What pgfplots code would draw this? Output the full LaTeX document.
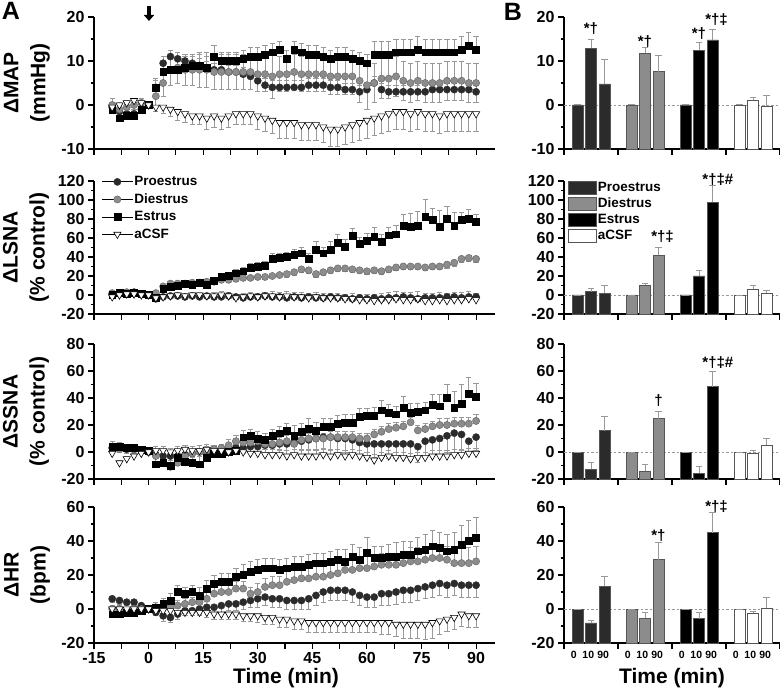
\documentclass[border=0pt]{standalone}
\usepackage{fontspec}
\setmainfont{Liberation Sans}
\usepackage{pgfplots}
\pgfplotsset{compat=1.18}
\usepackage{pgfplotstable}
\usetikzlibrary{arrows.meta}

\newcommand\fTick{\bfseries\fontsize{16}{16}\selectfont}
\newcommand\fLab{\bfseries\fontsize{21}{27}\selectfont}
\newcommand\fLeg{\bfseries\fontsize{13.5}{15}\selectfont}
\newcommand\fAnn{\bfseries\fontsize{15}{15}\selectfont}
\newcommand\fSm{\bfseries\fontsize{10.5}{10.5}\selectfont}
\newcommand\fPl{\bfseries\fontsize{25}{25}\selectfont}

\definecolor{pcol}{HTML}{2B2B2B}
\definecolor{dcol}{HTML}{8C8C8C}
\definecolor{dedge}{HTML}{6A6A6A}
\definecolor{ebcol}{HTML}{999999}
\definecolor{bedge}{HTML}{555555}

\pgfplotsset{
 base/.style={scale only axis, axis x line=bottom, axis y line=left,
   axis line style={-, line width=1.1pt}, tick style={line width=1.1pt, black},
   major tick length=6pt, minor tick length=3.5pt, tick align=outside,
   tick label style={font=\fTick}, /pgf/number format/assume math mode=true,
   minor y tick num=1, clip=false},
 leftax/.style={base, width=401pt, xmin=-15, xmax=95.2, xtick={-15,0,...,90},
   extra x ticks={-7.5,7.5,...,82.5}, extra x tick labels={}},
 rightax/.style={base, width=216pt, xmin=0, xmax=16, xtick={0,4,...,16}, xticklabels={}},
 Pst/.style={only marks, mark=*, mark size=3.6pt, mark options={fill=pcol, draw=pcol, line width=0.4pt}},
 Dst/.style={only marks, mark=*, mark size=3.6pt, mark options={fill=dcol, draw=dedge, line width=0.5pt}},
 Est/.style={only marks, mark=square*, mark size=3.4pt, mark options={fill=black, draw=black}},
 Ast/.style={only marks, mark=triangle*, mark size=4.2pt, mark options={rotate=180, fill=white, draw=black, line width=0.6pt}},
 ebplus/.style={error bars/.cd, y dir=plus, y explicit, error bar style={line width=0.8pt, ebcol}, error mark options={rotate=90, mark size=2.6pt, line width=0.8pt, ebcol}},
 ebminus/.style={error bars/.cd, y dir=minus, y explicit, error bar style={line width=0.8pt, ebcol}, error mark options={rotate=90, mark size=2.6pt, line width=0.8pt, ebcol}},
 ebboth/.style={error bars/.cd, y dir=both, y explicit, error bar style={line width=0.8pt, ebcol}, error mark options={rotate=90, mark size=2.6pt, line width=0.8pt, ebcol}},
 barst/.style={ybar, bar width=11pt, bar shift=0pt, line width=0.6pt,
   legend image code/.code={\draw[##1] (0pt,-6.5pt) rectangle (28pt,6.5pt);}},
 bareb/.style={error bars/.cd, y dir=plus, y explicit, error bar style={line width=1pt, ebcol}, error mark options={rotate=90, mark size=3.2pt, line width=1pt, ebcol}},
 zline/.style={forget plot, ebcol, line width=0.6pt, dash pattern=on 2.5pt off 2pt},
}

\pgfplotstableread{
t P Pe D De E Ee A Ae
-10 -0.5 1 0 1.5 -1 1.5 -0.5 1.5
-8 -1.5 1 -1 1.5 -3 1.5 0 1.5
-6 -2 1 -0.5 1.5 -2.5 1.5 0.5 1
-4 -2 1 0 1.5 -2.5 1.5 1 1
-2 -1 1 0.5 1 -1 1 0.5 1
0 0 0.5 0 0.5 0 0.5 0 0.5
2 4 1.5 2 2 4 2 -0.5 1
4 9.5 1.5 5 3 7.5 2 -0.5 1.5
6 11 1.5 8 3.5 8 2.5 -1 1.5
8 10.5 1.5 8.5 3.5 8 2.5 -1.5 2
10 10 1.5 8 3.5 8.5 2.5 -2 2
12 9.5 1.5 8 3.5 9 2.5 -2.5 2
14 9 1.5 8 4 9 2.5 -2.5 2
16 8.5 1.5 8 4 8.5 2.5 -3 2.5
18 8 1.5 7.5 4 11 2.5 -2.5 2.5
20 8 1.5 7.5 4 10 2 -3 2.5
22 7.5 1.5 7.5 4 10 2 -2.5 2.5
24 7.5 1.5 7.5 4 10 2 -2 2.5
26 7 1.5 7.5 4 10.5 2 -2 2.5
28 6.5 1.5 7.5 4 11 2 -2 2.5
30 5.5 1.5 7 4 11 2 -2.5 3
32 4.5 1.5 7 4 11.5 2 -3 3
34 4 1.5 6.5 5 12 2 -3.5 3
36 4 1.5 7 4 12.5 2 -4 3.5
38 4 1.5 7 4 10.5 2 -4 3.5
40 4 1.5 7.5 4 12.5 2 -4 3.5
42 4 1.5 7 4 12 2 -4.5 3.5
44 4.5 1.5 7 4 11.5 2 -4.5 3.5
46 4.5 1.5 7 4 11.5 2 -4.5 3.5
48 4.5 1.5 7 4 11 2 -5 3.5
50 4 1.5 6.5 4 10.5 2 -5.5 4
52 4 1.5 6.5 4 11 2 -5.5 4
54 3.5 1.5 6.5 4 11 2 -5 4
56 3.5 1.5 6.5 4 10.5 2 -4.5 4
58 3 1.5 5.5 5 10 2 -4 4
60 3.5 1.5 4.5 5.5 9.5 2 -3.5 4
62 5 1.5 5 4.5 11.5 3 -3 4
64 3.5 1.5 6 4.5 11.5 3 -2.5 4
66 3 1.5 6 4.5 11.5 3 -2 4
68 3 1.5 6.5 4.5 12 3 -1.5 4
70 3 1.5 5.5 4.5 12 3 -1.5 4
72 3 1.5 5 4.5 12 3 -2 4
74 3 1.5 5.5 4.5 12.5 3 -1.5 4
76 3 1.5 5 4.5 12 3 -2 4
78 3.5 1.5 5 4.5 12 3 -2 4
80 3.5 1.5 5 4.5 12 3 -2.5 4
82 3.5 1.5 5.5 4.5 12 3 -2 4
84 3.5 1.5 5.5 4.5 12 3 -2 4
86 3.5 1.5 5.5 4.5 12.5 3 -2 4
88 3.5 1.5 5 4.5 13.5 3 -2 4
90 3 1.5 5 4.5 12.5 3 -2 4
}\mapd

\pgfplotstableread{
t P Pe D De E Ee A Ae
-10 1 2 2 2 0 3 -2 3
-8 2 2 1 2 2 2 0 3
-6 2 2 3 2 1 2 1 2
-4 3 2 2 2 2 2 1 2
-2 1 2 1 2 1 2 0 2
0 0 1 0 1 0 1 0 1
2 -4 2 2 2 -3 2 -3 2
4 -2 2 9 3 7 3 -2 3
6 -1 2 12 3 9 3 -1 3
8 -1 2 12 3 10 3 0 3
10 -2 2 12 3 12 3 -1 3
12 -1 2 13 3 11 3 0 3
14 -2 2 13 3 13 3 0 3
16 -1 2 14 3 11 3 -1 3
18 -2 2 14 3 15 3 -1 4
20 -2 2 16 3 19 3 0 4
22 -1 2 16 3 20 3 -1 4
24 -2 2 17 3 23 4 -3 4
26 -3 2 18 3 25 4 -2 4
28 -2 2 18 3 29 4 -1 4
30 -2 2 19 3 30 4 -2 4
32 -1 2 19 3 31 4 -1 4
34 -2 2 20 3 38 6 -1 5
36 -2 2 21 3 39 5 -2 5
38 -3 2 22 3 40 5 -1 5
40 -2 2 24 3 42 6 -2 5
42 -3 2 27 3 44 6 -2 5
44 -2 2 26 3 38 6 -3 5
46 -3 2 22 3 48 8 -2 5
48 -3 2 24 3 44 6 -3 5
50 -2 2 26 3 48 8 -3 5
52 -3 2 28 3 55 9 -3 5
54 -3 2 28 3 51 8 -4 5
56 -4 2 27 3 62 8 -4 6
58 -3 2 26 3 54 7 -5 6
60 -4 2 25 3 57 8 -5 6
62 -3 2 26 3 61 10 -6 7
64 -4 2 25 3 56 8 -5 7
66 -3 2 27 3 63 8 -5 8
68 -3 2 29 3 64 9 -4 8
70 -2 2 30 3 73 12 -5 8
72 -3 2 30 3 72 14 -5 8
74 -4 2 30 3 73 15 -4 8
76 -3 2 29 3 82 19 -6 8
78 -3 2 30 3 79 12 -6 8
80 -3 2 30 3 72 17 -5 8
82 -2 2 32 4 80 13 -6 8
84 -2 2 34 4 73 14 -5 8
86 -3 2 38 4 79 8 -5 8
88 -2 2 39 4 80 10 -4 8
90 -2 2 38 4 77 8 -5 7
}\lsnad

\pgfplotstableread{
t P Pe D De E Ee A Ae
-10 3 3 3 2 4 4 -1 2
-8 3 3 2 2 4 3 -8 2
-6 2 3 3 2 3 3 -5 2
-4 2 3 2 2 3 3 -3 2
-2 1 2 1 2 2 2 -1 2
0 0 1 0 1 1 1 0 1
2 -2 3 -3 3 -9 4 1 3
4 -3 3 -8 3 -8 4 1 3
6 -3 3 -11 3 -10 5 0 3
8 -3 3 -8 3 -4 5 1 3
10 -2 3 -3 3 -7 5 2 3
12 -1 3 -1 3 -8 5 1 3
14 0 3 0 3 -9 6 1 4
16 0 3 1 3 -4 5 2 4
18 1 3 2 3 -1 5 1 4
20 2 4 3 3 -1 5 1 4
22 2 4 5 4 0 5 0 4
24 3 4 8 4 1 5 1 4
26 3 4 7 4 11 5 0 4
28 4 4 7 4 12 5 -1 4
30 4 4 8 4 10 5 -1 4
32 5 5 6 4 9 5 -2 4
34 5 5 6 4 12 5 -2 4
36 6 5 7 4 14 5 -2 4
38 6 5 8 4 16 5 -3 4
40 7 5 6 4 12 8 -2 4
42 8 6 9 4 15 6 -3 4
44 9 7 10 4 17 8 -3 4
46 10 8 10 4 16 6 -3 4
48 11 8 10 4 19 6 -2 4
50 11 9 11 4 19 6 -3 4
52 10 10 11 4 21 6 -2 4
54 10 10 11 4 22 6 -3 4
56 9 10 11 4 22 6 -2 4
58 7 10 10 4 26 6 -3 4
60 6 10 10 4 27 5 -4 4
62 6 10 13 4 27 6 -6 4
64 6 11 15 4 31 7 -4 4
66 6 11 17 4 29 6 -3 4
68 6 11 18 4 28 6 -4 4
70 6 11 19 4 33 8 -4 4
72 6 12 22 4 29 7 -5 4
74 4 12 16 4 30 6 -4 4
76 8 12 17 4 31 6 -4 4
78 9 12 19 4 35 8 -3 4
80 10 12 20 5 34 9 -3 4
82 12 12 20 5 40 10 -3 4
84 14 12 21 5 33 12 -2 4
86 13 12 21 5 36 14 -2 4
88 8 10 21 5 43 12 -1 4
90 11 10 23 5 41 10 -1 4
}\ssnad

\pgfplotstableread{
t P Pe D De E Ee A Ae
-10 6 2 0 2 -3 2 0 2
-8 5 2 0 2 -3 2 0 2
-6 4 2 -1 2 -2 2 0 2
-4 4 2 0 2 -2 2 0 2
-2 2 2 0 2 -1 2 0 2
0 0 1 0 1 0 1 0 1
2 -2 2 1 3 1 3 -1 2
4 -4 3 1 3 3 3 -1 2
6 -5 3 1 3 5 4 -1 2
8 -3 3 2 3 10 4 -2 2
10 -1 3 3 3 9 4 -2 2
12 -1 3 4 3 10 4 -2 2
14 0 3 4 4 8 5 -2 2
16 1 3 6 4 12 5 -2 3
18 1 3 9 4 15 5 -3 3
20 2 4 10 4 16 5 -3 3
22 3 4 10 4 16 5 -3 3
24 3 4 12 4 19 5 -3 3
26 4 4 12 4 20 6 -4 3
28 5 4 9 4 22 6 -4 3
30 6 5 10 5 23 6 -4 4
32 7 5 13 5 24 6 -5 4
34 6 5 14 5 24 6 -5 4
36 6 5 14 5 23 6 -6 5
38 5 5 16 6 24 6 -6 5
40 5 5 17 6 25 6 -7 5
42 5 5 18 6 25 6 -7 5
44 6 6 18 6 26 6 -8 6
46 8 6 19 7 27 6 -8 6
48 10 6 19 7 27 6 -8 6
50 11 6 20 7 28 6 -8 6
52 11 6 21 7 29 6 -8 6
54 11 6 23 7 28 7 -8 6
56 10 6 23 7 31 7 -8 6
58 8 6 24 7 29 7 -8 6
60 7 6 24 7 33 9 -8 6
62 7 6 25 7 30 7 -8 6
64 9 7 26 7 30 7 -8 7
66 9 7 26 7 31 7 -8 7
68 10 7 26 7 31 8 -9 7
70 11 7 27 7 32 8 -9 8
72 11 7 28 8 32 8 -9 8
74 12 7 28 8 34 8 -9 8
76 13 7 29 8 35 9 -9 9
78 14 7 30 8 37 9 -8 9
80 15 7 30 8 36 9 -7 8
82 14 7 29 8 34 10 -6 7
84 15 7 27 9 35 10 -5 7
86 14 7 27 9 38 11 -3 7
88 14 7 27 9 40 12 -4 7
90 14 7 28 9 42 12 -4 7
}\hrd

\begin{document}
\begin{tikzpicture}
\useasboundingbox (0pt,0pt) rectangle (780pt,-695pt);

% ---------------- left panels ----------------
\begin{axis}[leftax, xticklabels={}, at={(94pt,-149pt)}, anchor=south west, height=132pt,
  ymin=-10, ymax=20, ytick={-10,0,10,20}]
\addplot[Pst, ebplus] table[x=t,y=P,y error=Pe]{\mapd};
\addplot[Dst, ebboth] table[x=t,y=D,y error=De]{\mapd};
\addplot[Est, ebplus] table[x=t,y=E,y error=Ee]{\mapd};
\addplot[Ast, ebminus] table[x=t,y=A,y error=Ae]{\mapd};
\end{axis}

\begin{axis}[leftax, xticklabels={}, at={(94pt,-314pt)}, anchor=south west, height=133pt,
  ymin=-20, ymax=120, ytick={-20,0,...,120},
  legend style={at={(axis cs:-13,126)}, anchor=north west, draw=none, fill=none,
    font=\fLeg, row sep=4.5pt, inner sep=0pt, nodes={inner sep=1pt}},
  legend cell align=left,
  legend image code/.code={\draw[black, line width=0.8pt] (0pt,0pt) -- (31pt,0pt);
     \draw[#1] plot coordinates {(15.5pt,0pt)};}]
\addplot[Pst, ebminus] table[x=t,y=P,y error=Pe]{\lsnad};
\addplot[Dst, ebminus] table[x=t,y=D,y error=De]{\lsnad};
\addplot[Est, ebplus] table[x=t,y=E,y error=Ee]{\lsnad};
\addplot[Ast, ebplus] table[x=t,y=A,y error=Ae]{\lsnad};
\legend{Proestrus,Diestrus,Estrus,aCSF}
\end{axis}

\begin{axis}[leftax, xticklabels={}, at={(94pt,-479pt)}, anchor=south west, height=135pt,
  ymin=-20, ymax=80, ytick={-20,0,...,80}]
\addplot[Pst, ebminus] table[x=t,y=P,y error=Pe]{\ssnad};
\addplot[Dst, ebplus] table[x=t,y=D,y error=De]{\ssnad};
\addplot[Est, ebplus] table[x=t,y=E,y error=Ee]{\ssnad};
\addplot[Ast, ebplus] table[x=t,y=A,y error=Ae]{\ssnad};
\end{axis}

\begin{axis}[leftax, at={(94pt,-643pt)}, anchor=south west, height=136pt,
  ymin=-20, ymax=60, ytick={-20,0,...,60}]
\addplot[Pst, ebminus] table[x=t,y=P,y error=Pe]{\hrd};
\addplot[Dst, ebplus] table[x=t,y=D,y error=De]{\hrd};
\addplot[Est, ebplus] table[x=t,y=E,y error=Ee]{\hrd};
\addplot[Ast, ebminus] table[x=t,y=A,y error=Ae]{\hrd};
\end{axis}

% ---------------- right panels (bars drawn from the axis floor: values shifted by -ymin) ----------------
\begin{axis}[rightax, at={(564pt,-149pt)}, anchor=south west, height=132pt,
  ymin=0, ymax=30, ytick={0,10,20,30}, yticklabels={-10,0,10,20}]
\addplot[zline] coordinates {(0,10) (16,10)};
\addplot[barst, fill=pcol, draw=bedge, bareb] table[x=x, y expr=\thisrow{v}+10, y error=e, row sep=\\]{x v e\\ 1 0 0\\ 2 12.9 2.1\\ 3 4.8 5.5\\};
\addplot[barst, fill=dcol, draw=bedge, bareb] table[x=x, y expr=\thisrow{v}+10, y error=e, row sep=\\]{x v e\\ 5 0 0\\ 6 11.8 1.2\\ 7 7.6 3.6\\};
\addplot[barst, fill=black, draw=bedge, bareb] table[x=x, y expr=\thisrow{v}+10, y error=e, row sep=\\]{x v e\\ 9 0 0\\ 10 12.4 1.9\\ 11 14.8 2.4\\};
\addplot[barst, fill=white, draw=bedge, bareb] table[x=x, y expr=\thisrow{v}+10, y error=e, row sep=\\]{x v e\\ 13 0 0\\ 14 1.1 0.6\\ 15 -0.2 2.4\\};
\node[font=\fAnn] at (axis cs:2,27.3) {*†};
\node[font=\fAnn] at (axis cs:6,24.5) {*†};
\node[font=\fAnn] at (axis cs:10,26.2) {*†};
\node[font=\fAnn] at (axis cs:11.3,29.4) {*†‡};
\end{axis}

\begin{axis}[rightax, at={(564pt,-314pt)}, anchor=south west, height=133pt,
  ymin=0, ymax=140, ytick={0,20,...,140}, yticklabels={-20,0,20,40,60,80,100,120},
  legend style={at={(axis cs:0.3,140.5)}, anchor=north west, draw=none, fill=none,
    font=\fLeg, row sep=2.5pt, inner sep=0pt, nodes={inner sep=1pt}},
  legend cell align=left]
\addplot[zline] coordinates {(0,20) (16,20)};
\addplot[barst, fill=pcol, draw=bedge, bareb] table[x=x, y expr=\thisrow{v}+20, y error=e, row sep=\\]{x v e\\ 1 0 0\\ 2 3.5 3.5\\ 3 1.8 7.7\\};
\addplot[barst, fill=dcol, draw=bedge, bareb] table[x=x, y expr=\thisrow{v}+20, y error=e, row sep=\\]{x v e\\ 5 0 0\\ 6 10.2 2.1\\ 7 41.8 8.4\\};
\addplot[barst, fill=black, draw=bedge, bareb] table[x=x, y expr=\thisrow{v}+20, y error=e, row sep=\\]{x v e\\ 9 0 0\\ 10 20 5.3\\ 11 97.5 17.9\\};
\addplot[barst, fill=white, draw=bedge, bareb] table[x=x, y expr=\thisrow{v}+20, y error=e, row sep=\\]{x v e\\ 13 0 0\\ 14 6 3.5\\ 15 1.8 2.8\\};
\legend{Proestrus,Diestrus,Estrus,aCSF}
\node[font=\fAnn] at (axis cs:7.3,81.4) {*†‡};
\node[font=\fAnn] at (axis cs:11.4,141.8) {*†‡\#};
\end{axis}

\begin{axis}[rightax, at={(564pt,-479pt)}, anchor=south west, height=135pt,
  ymin=0, ymax=100, ytick={0,20,...,100}, yticklabels={-20,0,20,40,60,80}]
\addplot[zline] coordinates {(0,20) (16,20)};
\addplot[barst, fill=pcol, draw=bedge, bareb] table[x=x, y expr=\thisrow{v}+20, y error=e, row sep=\\]{x v e\\ 1 0 0\\ 2 -12.6 4.9\\ 3 15.8 10.6\\};
\addplot[barst, fill=dcol, draw=bedge, bareb] table[x=x, y expr=\thisrow{v}+20, y error=e, row sep=\\]{x v e\\ 5 0 0\\ 6 -14.1 5\\ 7 24.7 5.4\\};
\addplot[barst, fill=black, draw=bedge, bareb] table[x=x, y expr=\thisrow{v}+20, y error=e, row sep=\\]{x v e\\ 9 0 0\\ 10 -15.8 5.2\\ 11 48.4 11.1\\};
\addplot[barst, fill=white, draw=bedge, bareb] table[x=x, y expr=\thisrow{v}+20, y error=e, row sep=\\]{x v e\\ 13 0 0\\ 14 -1 2\\ 15 4.9 5.2\\};
\node[font=\fAnn] at (axis cs:7,58) {†};
\node[font=\fAnn] at (axis cs:11.4,86.2) {*†‡\#};
\end{axis}

\begin{axis}[rightax, at={(564pt,-643pt)}, anchor=south west, height=136pt,
  ymin=0, ymax=80, ytick={0,20,...,80}, yticklabels={-20,0,20,40,60},
  extra x ticks={0.72,1.8,2.9,4.72,5.8,6.9,8.72,9.8,10.9,12.72,13.8,14.9},
  extra x tick labels={0,10,90,0,10,90,0,10,90,0,10,90},
  extra x tick style={tick style={draw=none}, tick label style={font=\fSm, yshift=1pt}}]
\addplot[zline] coordinates {(0,20) (16,20)};
\addplot[barst, fill=pcol, draw=bedge, bareb] table[x=x, y expr=\thisrow{v}+20, y error=e, row sep=\\]{x v e\\ 1 0 0\\ 2 -8.2 1.5\\ 3 13.3 6.1\\};
\addplot[barst, fill=dcol, draw=bedge, bareb] table[x=x, y expr=\thisrow{v}+20, y error=e, row sep=\\]{x v e\\ 5 0 0\\ 6 -5.3 3.5\\ 7 29 10.2\\};
\addplot[barst, fill=black, draw=bedge, bareb] table[x=x, y expr=\thisrow{v}+20, y error=e, row sep=\\]{x v e\\ 9 0 0\\ 10 -5.7 3.9\\ 11 44.9 11.6\\};
\addplot[barst, fill=white, draw=bedge, bareb] table[x=x, y expr=\thisrow{v}+20, y error=e, row sep=\\]{x v e\\ 13 0 0\\ 14 -2.4 1\\ 15 0.6 6.1\\};
\node[font=\fAnn] at (axis cs:7,63.3) {*†};
\node[font=\fAnn] at (axis cs:11.3,80) {*†‡};
\end{axis}

% ---------------- labels ----------------
\node[font=\fPl] at (11pt,-11pt) {A};
\node[font=\fPl] at (513pt,-12pt) {B};
\draw[-{Triangle[width=10pt,length=6pt]}, line width=4pt] (149pt,-6pt) -- (149pt,-21pt);

\node[rotate=90, align=center, font=\fLab] at (27pt,-83pt) {ΔMAP\\(mmHg)};
\node[rotate=90, align=center, font=\fLab] at (26pt,-247.5pt) {ΔLSNA\\(\% control)};
\node[rotate=90, align=center, font=\fLab] at (26pt,-411.5pt) {ΔSSNA\\(\% control)};
\node[rotate=90, align=center, font=\fLab] at (27pt,-575pt) {ΔHR\\(bpm)};

\node[font=\fLab] at (286pt,-678pt) {Time (min)};
\node[font=\fLab] at (672pt,-678pt) {Time (min)};
\end{tikzpicture}
\end{document}
